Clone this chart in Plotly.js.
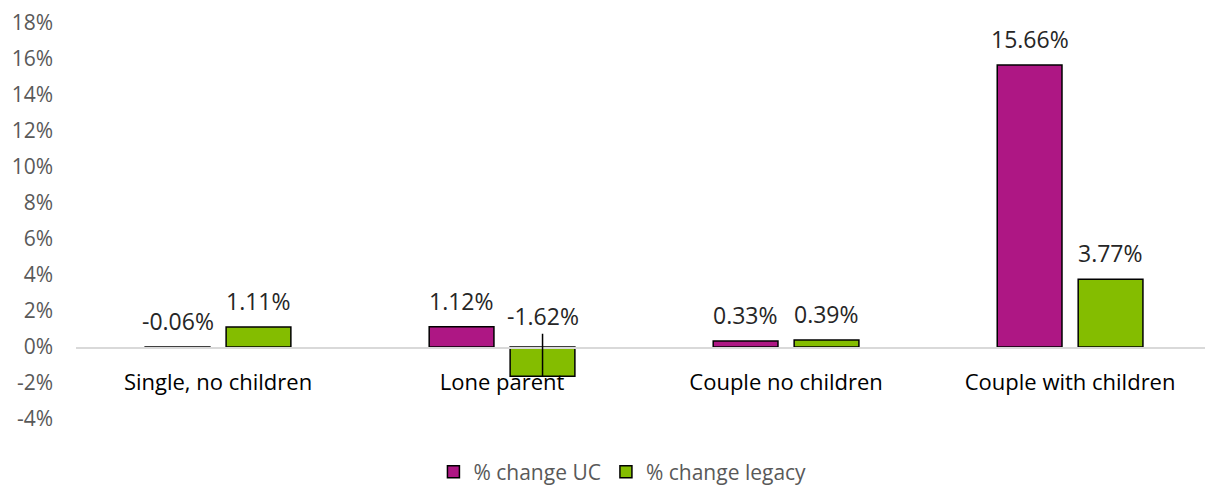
<!DOCTYPE html>
<html>
<head>
<meta charset="utf-8">
<script src="https://cdn.plot.ly/plotly-3.0.1.min.js"></script>
<style>html,body{margin:0;padding:0;background:#fff;}#chart{width:1205px;height:487px;}</style>
</head>
<body>
<div id="chart"></div>
<script>
const categories = ["Single, no children", "Lone parent", "Couple no children", "Couple with children"];
const seriesNames = ["% change UC", "% change legacy"];
const ucValues = [-0.06, 1.12, 0.33, 15.66];
const legacyValues = [1.11, -1.62, 0.39, 3.77];
const seriesColors = ["#AE1784", "#84BD00"];
const yTickVals = [-4, -2, 0, 2, 4, 6, 8, 10, 12, 14, 16, 18];

const FONT = "Open Sans, DejaVu Sans, sans-serif";
const series = [ucValues, legacyValues];

const traces = series.map((vals, i) => ({
  type: "bar",
  name: seriesNames[i],
  x: categories,
  y: vals,
  marker: {color: seriesColors[i], line: {color: "#000000", width: 1.5}},
  hoverinfo: "skip"
}));

const slotShift = 40.5;
const annotations = [];
series.forEach((vals, i) => {
  const shift = (i === 0 ? -1 : 1) * slotShift;
  vals.forEach((v, j) => {
    const txt = v.toFixed(2) + "%";
    if (v < -1) {
      annotations.push({
        xref: "x", yref: "y", x: categories[j], y: v, xshift: shift,
        text: txt, showarrow: true, arrowhead: 0, arrowwidth: 1.5, arrowcolor: "#000",
        ax: 0, ay: -60, standoff: 0,
        font: {family: FONT, size: 23, color: "#262626"}
      });
    } else {
      annotations.push({
        xref: "x", yref: "y", x: categories[j], y: Math.max(v, 0), xshift: shift,
        text: txt, showarrow: false, yanchor: "bottom", yshift: 8,
        font: {family: FONT, size: 23, color: "#262626"}
      });
    }
  });
});

const yMin = -4, yMax = 18;
const layout = {
  width: 1205, height: 487,
  margin: {l: 76, r: 0, t: 23, b: 68, pad: 0, autoexpand: false},
  paper_bgcolor: "#ffffff", plot_bgcolor: "#ffffff",
  font: {family: FONT, color: "#595959"},
  barmode: "group",
  bargap: 0.43,
  bargroupgap: 0.2,
  xaxis: {
    type: "category",
    range: [-0.5, 3.475],
    anchor: "free",
    position: (0 - yMin) / (yMax - yMin),
    showline: true, linecolor: "#d9d9d9", linewidth: 1.5,
    showgrid: false, zeroline: false, ticks: "",
    ticklabelstandoff: 15,
    tickfont: {family: FONT, size: 22, color: "#000000"}
  },
  yaxis: {
    range: [yMin, yMax],
    tickvals: yTickVals,
    ticktext: yTickVals.map(v => v + "%"),
    showgrid: false, zeroline: false, showline: false, ticks: "",
    ticklabelstandoff: 22,
    tickfont: {family: FONT, size: 21, color: "#595959"}
  },
  showlegend: true,
  legend: {
    orientation: "h", x: 0.484, xanchor: "center", y: -0.134, yanchor: "middle",
    font: {family: FONT, size: 21, color: "#595959"},
    itemwidth: 30, traceorder: "normal"
  },
  annotations: annotations
};

Plotly.newPlot("chart", traces, layout, {displayModeBar: false, staticPlot: true});
</script>
</body>
</html>
